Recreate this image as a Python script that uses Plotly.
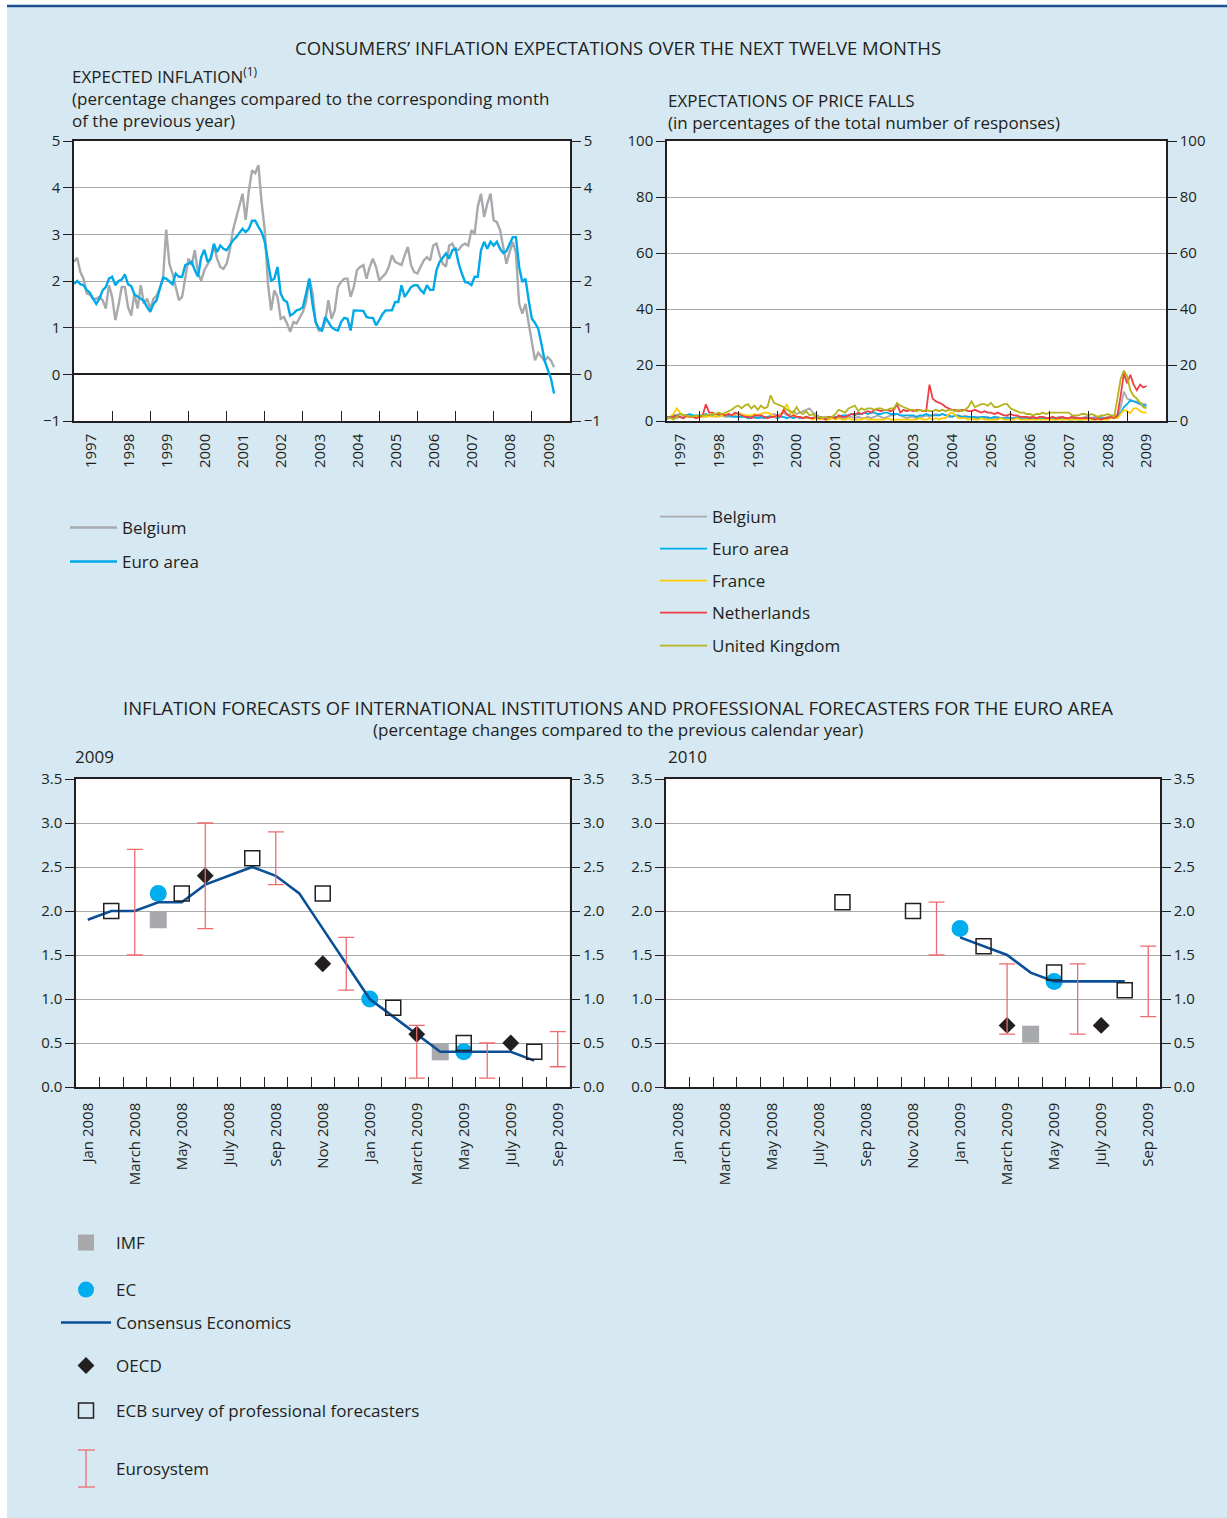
import plotly.graph_objects as go

W, H = 1227, 1518
FONT = "Open Sans"
TXT = "#231f20"
FRAME = "#231f20"
GRID = "#a7a9ac"
BG = "#d6e8f2"

# --- expected inflation, monthly from Jan 1997 (percent)
exp_years = [str(y) for y in range(1997, 2010)]
belgium_exp = [
    2.41, 2.5, 2.19, 2.05, 1.73, 1.71, 1.62, 1.62, 1.66, 1.59, 1.41, 1.91,
    1.66, 1.16, 1.48, 1.87, 1.87, 1.44, 1.26, 1.73, 1.41, 1.91, 1.51, 1.62,
    1.41, 1.62, 1.69, 1.84, 2.05, 3.1, 2.37, 2.16, 1.87, 1.59, 1.66, 2.09,
    2.48, 2.34, 2.66, 2.16, 2.01, 2.23, 2.37, 2.48, 2.76, 2.48, 2.3, 2.26,
    2.37, 2.66, 3.09, 3.37, 3.59, 3.87, 3.31, 3.94, 4.37, 4.31, 4.48, 3.69,
    3.09, 1.94, 1.37, 1.8, 1.66, 1.19, 1.23, 1.09, 0.91, 1.12, 1.09, 1.23,
    1.34, 1.55, 2.05, 1.76, 1.12, 0.94, 0.94, 1.12, 1.59, 1.19, 1.37, 1.87,
    1.98, 2.05, 2.05, 1.66, 1.87, 2.23, 2.3, 2.34, 2.05, 2.3, 2.48, 2.3,
    2.01, 2.09, 2.16, 2.3, 2.55, 2.41, 2.37, 2.34, 2.55, 2.73, 2.34, 2.19,
    2.16, 2.3, 2.44, 2.51, 2.44, 2.76, 2.8, 2.55, 2.37, 2.31, 2.76, 2.8,
    2.66, 2.67, 2.76, 2.8, 2.76, 3.09, 3.01, 3.59, 3.87, 3.37, 3.66, 3.87,
    3.3, 3.26, 3.09, 2.73, 2.37, 2.62, 2.84, 2.59, 1.51, 1.3, 1.51, 1.09,
    0.66, 0.3, 0.46, 0.37, 0.29, 0.37, 0.3, 0.15,
]
euro_exp = [
    1.94, 2.0, 1.93, 1.91, 1.81, 1.75, 1.62, 1.51, 1.62, 1.8, 1.87, 2.05,
    2.09, 1.91, 2.0, 2.03, 2.14, 1.93, 1.89, 1.71, 1.67, 1.62, 1.57, 1.44,
    1.34, 1.51, 1.59, 1.84, 2.07, 2.05, 1.98, 1.93, 2.16, 2.09, 2.09, 2.34,
    2.37, 2.41, 2.23, 2.09, 2.51, 2.67, 2.41, 2.48, 2.8, 2.62, 2.76, 2.69,
    2.66, 2.76, 2.87, 2.94, 3.03, 3.12, 3.05, 3.12, 3.29, 3.29, 3.16, 3.05,
    2.84, 2.37, 2.01, 2.05, 2.3, 1.73, 1.59, 1.55, 1.26, 1.3, 1.37, 1.39,
    1.44, 1.73, 2.05, 1.51, 1.12, 0.98, 0.94, 1.23, 1.12, 1.01, 0.96, 0.94,
    1.12, 1.21, 1.19, 0.94, 1.37, 1.37, 1.37, 1.36, 1.23, 1.21, 1.21, 1.05,
    1.16, 1.29, 1.37, 1.37, 1.37, 1.55, 1.55, 1.91, 1.66, 1.76, 1.87, 1.91,
    1.91, 1.81, 1.74, 1.91, 1.81, 1.81, 2.23, 2.41, 2.51, 2.59, 2.48, 2.66,
    2.69, 2.37, 2.16, 1.98, 1.96, 1.91, 2.09, 2.09, 2.66, 2.84, 2.69, 2.84,
    2.76, 2.84, 2.69, 2.6, 2.64, 2.8, 2.94, 2.94, 2.3, 1.98, 2.05, 1.59,
    1.19, 1.1, 0.98, 0.66, 0.3, 0.1, -0.09, -0.41,
]

# --- expectations of price falls, monthly from Mar 1997 (% of responses)
falls_belgium = [
    1.0, 1.5, 1.0, 1.0, 1.5, 1.0, 1.5, 2.0, 1.5, 1.5,
    1.5, 2.0, 1.5, 2.0, 2.0, 1.5, 2.0, 2.0, 1.5, 1.5, 2.0, 2.0,
    1.5, 1.5, 2.0, 1.5, 1.5, 1.0, 1.5, 1.0, 1.5, 1.5, 2.0, 2.5,
    2.0, 2.5, 3.0, 2.0, 2.5, 3.5, 2.5, 3.0, 3.5, 4.0, 4.5, 3.0,
    2.5, 1.5, 1.5, 1.0, 1.5, 1.0, 1.0, 1.5, 1.0, 1.0, 1.5, 1.5,
    1.0, 1.5, 1.0, 1.0, 1.5, 1.0, 1.5, 2.0, 1.5, 1.0, 1.5, 2.0,
    2.0, 2.5, 2.0, 1.5, 1.0, 1.5, 1.5, 1.0, 1.5, 1.5, 2.0, 1.5,
    2.0, 2.5, 2.0, 2.5, 2.0, 1.5, 1.5, 2.0, 1.5, 1.5, 2.0, 1.5,
    1.5, 1.0, 1.5, 1.0, 1.0, 1.5, 1.0, 1.0, 1.5, 1.0, 1.0, 1.5,
    1.0, 1.0, 1.5, 1.0, 1.0, 1.0, 1.5, 1.0, 1.0, 1.0, 1.5, 1.0,
    1.0, 1.0, 1.0, 1.5, 1.0, 1.0, 1.0, 1.0, 1.5, 1.0, 1.0, 1.5,
    1.5, 1.0, 1.5, 1.0, 1.5, 1.0, 1.5, 2.0, 2.0, 2.0, 5.0, 10.5,
    8.0, 7.5, 7.0, 7.0, 6.5, 6.0, 6.0,
]
falls_euro = [
    1.5, 1.5, 2.0, 2.0, 2.5, 2.0, 2.0, 2.5, 2.0, 2.0,
    2.0, 2.0, 2.5, 2.0, 2.0, 2.5, 2.0, 2.0, 2.0, 2.0, 1.5, 1.5,
    1.5, 1.5, 1.5, 1.0, 1.5, 1.5, 1.0, 1.5, 1.0, 1.5, 1.5, 1.5,
    1.0, 1.5, 1.5, 1.0, 1.5, 1.0, 1.5, 1.0, 1.0, 1.5, 1.0, 1.0,
    1.0, 1.5, 1.0, 1.0, 1.5, 1.0, 1.5, 1.5, 2.0, 2.0, 2.0, 2.5,
    2.5, 2.5, 2.5, 3.0, 2.5, 3.0, 3.0, 2.5, 2.5, 3.0, 3.0, 2.5,
    2.5, 2.5, 2.0, 2.0, 2.0, 2.0, 2.0, 1.5, 2.0, 2.0, 2.5, 2.0,
    2.0, 2.0, 2.0, 2.5, 2.0, 2.0, 1.5, 2.0, 2.0, 1.5, 1.5, 1.5,
    1.5, 1.5, 1.0, 1.5, 1.5, 1.0, 1.0, 1.5, 1.0, 1.0, 1.0, 1.0,
    1.0, 1.0, 1.0, 1.0, 1.0, 1.0, 1.0, 1.0, 1.0, 1.0, 1.0, 1.0,
    1.0, 1.0, 0.5, 1.0, 0.5, 1.0, 0.5, 0.5, 1.0, 0.5, 0.5, 1.0,
    1.0, 0.5, 1.0, 0.5, 1.0, 1.0, 1.0, 1.0, 1.0, 1.5, 3.0, 5.0,
    6.0, 7.5, 7.0, 6.5, 6.0, 5.5, 5.5,
]
falls_france = [
    0.5, 1.5, 2.5, 4.5, 3.0, 2.0, 1.5, 1.5, 1.5, 1.5,
    1.5, 1.5, 1.5, 2.0, 1.5, 2.0, 1.5, 2.0, 2.0, 2.5, 2.0, 2.5,
    3.0, 2.5, 2.0, 2.0, 2.0, 2.5, 2.0, 2.5, 3.0, 3.0, 2.5, 1.5,
    1.5, 2.0, 4.0, 6.0, 3.0, 2.5, 1.5, 1.5, 1.0, 1.0, 1.0, 0.5,
    1.0, 0.5, 1.0, 0.5, 0.5, 1.0, 0.5, 1.0, 0.5, 0.5, 1.0, 0.5,
    0.5, 0.5, 0.5, 1.0, 0.5, 0.5, 0.5, 0.5, 0.5, 0.5, 1.0, 0.5,
    0.5, 0.5, 0.5, 0.5, 0.5, 0.5, 0.5, 0.5, 1.0, 0.5, 0.5, 1.0,
    0.5, 1.0, 0.5, 1.0, 1.0, 2.5, 3.0, 2.0, 1.0, 1.0, 1.0, 0.5,
    1.0, 0.5, 0.5, 1.0, 0.5, 0.5, 0.5, 0.5, 0.5, 1.0, 0.5, 0.5,
    0.5, 0.5, 1.0, 0.5, 0.5, 0.5, 0.5, 0.5, 0.5, 0.5, 0.5, 0.5,
    0.5, 0.5, 0.5, 0.5, 0.5, 0.5, 0.5, 0.5, 0.5, 0.5, 0.5, 0.5,
    0.5, 0.5, 0.5, 0.5, 0.5, 0.5, 0.5, 1.0, 1.0, 1.0, 2.5, 4.0,
    3.5, 2.8, 4.5, 4.5, 3.5, 3.0, 3.0,
]
falls_netherlands = [
    1.0, 1.5, 1.5, 2.0, 1.5, 1.0, 2.0, 1.5, 1.5, 1.0,
    1.5, 2.0, 6.0, 3.0, 3.0, 2.5, 2.5, 2.5, 2.0, 2.5, 2.0, 3.0,
    2.5, 2.0, 1.5, 1.5, 1.0, 2.0, 2.0, 2.0, 1.5, 1.0, 1.5, 1.5,
    2.0, 1.5, 4.0, 2.5, 1.5, 2.0, 1.5, 1.5, 1.0, 1.5, 1.0, 1.0,
    1.5, 1.0, 1.0, 0.5, 1.5, 1.5, 1.0, 2.0, 1.5, 1.5, 2.0, 2.5,
    2.0, 3.0, 2.5, 3.0, 3.5, 3.0, 4.0, 4.0, 3.5, 4.0, 4.0, 3.5,
    4.0, 6.0, 3.0, 4.0, 3.5, 4.0, 3.5, 4.0, 4.0, 3.5, 3.5, 13.0,
    8.0, 7.0, 6.5, 6.0, 5.0, 4.5, 4.0, 4.0, 3.5, 4.0, 4.0, 3.5,
    3.5, 4.0, 3.5, 3.0, 3.5, 3.0, 3.0, 2.5, 3.0, 2.5, 2.0, 2.0,
    2.5, 2.0, 2.0, 1.5, 1.5, 1.5, 1.0, 1.5, 1.0, 1.5, 1.5, 1.0,
    1.0, 1.5, 1.0, 1.0, 1.5, 1.0, 1.0, 1.5, 1.0, 1.0, 1.0, 1.0,
    1.0, 1.0, 0.5, 1.0, 0.5, 1.0, 1.0, 1.5, 1.0, 2.0, 9.0, 17.0,
    13.5, 16.5, 13.0, 11.0, 13.0, 12.0, 12.5,
]
falls_uk = [
    1.0, 1.2, 0.5, 1.5, 2.5, 2.2, 2.0, 1.8, 1.5, 2.0,
    1.8, 2.0, 2.2, 2.0, 2.5, 2.5, 3.0, 2.5, 3.0, 3.5, 4.0, 5.0,
    5.5, 4.5, 5.5, 6.0, 4.5, 5.5, 4.0, 5.5, 4.5, 5.0, 9.2, 6.5,
    6.0, 5.5, 5.0, 4.0, 3.5, 3.0, 5.0, 3.0, 2.5, 3.5, 2.0, 2.5,
    1.5, 1.5, 1.0, 1.5, 1.0, 1.5, 2.5, 4.0, 3.5, 3.0, 4.5, 5.0,
    5.5, 3.5, 4.5, 4.0, 4.5, 4.5, 4.0, 4.5, 4.5, 4.0, 4.0, 4.5,
    4.5, 6.5, 5.5, 5.0, 4.5, 4.0, 4.0, 3.5, 4.0, 3.5, 4.0, 3.5,
    3.5, 4.0, 3.5, 4.0, 3.5, 4.0, 4.0, 3.5, 4.0, 3.5, 4.0, 5.0,
    7.0, 5.0, 5.5, 6.0, 6.0, 5.5, 6.5, 5.0, 5.0, 5.5, 6.0, 6.0,
    4.5, 4.0, 3.5, 3.0, 3.0, 2.5, 2.5, 2.0, 2.5, 2.5, 3.0, 2.5,
    3.0, 3.0, 3.0, 3.0, 3.0, 3.0, 3.0, 2.0, 2.0, 2.0, 2.5, 2.5,
    2.0, 2.5, 2.0, 1.5, 2.0, 2.0, 2.5, 2.0, 1.5, 8.0, 15.0, 18.0,
    16.0, 11.0, 9.0, 8.0, 6.5, 5.0, 4.5,
]
falls_names = ["Belgium", "Euro area", "France", "Netherlands", "United Kingdom"]
falls_colors = ["#a7a9ac", "#00aeef", "#ffcc00", "#ef3e45", "#b5b41e"]

# --- forecasts (month index 0 = Jan 2008)
fc_labels = ["Jan 2008", "March 2008", "May 2008", "July 2008", "Sep 2008", "Nov 2008",
             "Jan 2009", "March 2009", "May 2009", "July 2009", "Sep 2009"]

consensus_2009_m = list(range(0, 20))
consensus_2009 = [1.9, 2.0, 2.0, 2.1, 2.1, 2.3, 2.4, 2.5, 2.4, 2.2,
                  1.8, 1.4, 1.0, 0.8, 0.6, 0.4, 0.4, 0.4, 0.4, 0.3]
imf_2009_m, imf_2009 = [3, 15], [1.9, 0.4]
ec_2009_m, ec_2009 = [3, 12, 16], [2.2, 1.0, 0.4]
oecd_2009_m, oecd_2009 = [5, 10, 14, 18], [2.4, 1.4, 0.6, 0.5]
spf_2009_m, spf_2009 = [1, 4, 7, 10, 13, 16, 19], [2.0, 2.2, 2.6, 2.2, 0.9, 0.5, 0.4]
eurosys_2009_m = [2, 5, 8, 11, 14, 17, 20]
eurosys_2009_lo = [1.5, 1.8, 2.3, 1.1, 0.1, 0.1, 0.23]
eurosys_2009_hi = [2.7, 3.0, 2.9, 1.7, 0.7, 0.5, 0.63]

consensus_2010_m = list(range(12, 20))
consensus_2010 = [1.7, 1.6, 1.5, 1.3, 1.2, 1.2, 1.2, 1.2]
imf_2010_m, imf_2010 = [15], [0.6]
ec_2010_m, ec_2010 = [12, 16], [1.8, 1.2]
oecd_2010_m, oecd_2010 = [14, 18], [0.7, 0.7]
spf_2010_m, spf_2010 = [7, 10, 13, 16, 19], [2.1, 2.0, 1.6, 1.3, 1.1]
eurosys_2010_m = [11, 14, 17, 20]
eurosys_2010_lo = [1.5, 0.6, 0.6, 0.8]
eurosys_2010_hi = [2.1, 1.4, 1.4, 1.6]


def dx(a, b):
    return [a / W, b / W]


def dy(top, bottom):
    return [1 - bottom / H, 1 - top / H]


def xaxis_style(domain, rng, tickvals, ticktext, minor_vals, anchor, standoff):
    return dict(domain=domain, range=rng, anchor=anchor, tickmode="array",
                tickvals=tickvals, ticktext=ticktext, tickangle=-90, ticks="",
                ticklabelstandoff=standoff,
                tickfont=dict(family=FONT, size=15, color=TXT), automargin=False,
                showline=True, linecolor=FRAME, linewidth=1.5, mirror=True,
                showgrid=False, zeroline=False,
                minor=dict(tickmode="array", tickvals=minor_vals, ticks="inside",
                           ticklen=10, tickwidth=1.3, tickcolor=FRAME, showgrid=False))


def yaxis_style(domain, rng, tickvals, anchor, fmt=None, zero=False):
    d = dict(domain=domain, range=rng, anchor=anchor, tickmode="array", tickvals=tickvals,
             ticks="outside", ticklen=9, tickwidth=1.3, tickcolor=FRAME, automargin=False,
             tickfont=dict(family=FONT, size=15, color=TXT),
             showline=True, linecolor=FRAME, linewidth=1.5,
             showgrid=True, gridcolor=GRID, gridwidth=1.3,
             zeroline=zero, zerolinecolor=FRAME, zerolinewidth=1.6)
    if fmt:
        d["tickformat"] = fmt
    return d


def yaxis_right(over, rng, tickvals, anchor, fmt=None):
    d = dict(overlaying=over, side="right", range=rng, anchor=anchor, tickmode="array",
             tickvals=tickvals, ticks="outside", ticklen=9, tickwidth=1.3, tickcolor=FRAME,
             tickfont=dict(family=FONT, size=15, color=TXT), automargin=False,
             showline=True, linecolor=FRAME, linewidth=1.5, showgrid=False, zeroline=False)
    if fmt:
        d["tickformat"] = fmt
    return d


def legend_at(text_x, y, itemwidth):
    gap = itemwidth + 10
    return dict(x=(text_x - gap) / W, y=1 - y / H, xanchor="left", yanchor="middle",
                bgcolor="rgba(0,0,0,0)", borderwidth=0, itemwidth=itemwidth,
                font=dict(family=FONT, size=17, color=TXT))


fig = go.Figure()

# top left: expected inflation (euro area drawn on the right-hand axis, same scale)
exp_x = [1997 + i / 12 for i in range(len(belgium_exp))]
fig.add_trace(go.Scatter(x=exp_x, y=belgium_exp, mode="lines", name="Belgium",
                         line=dict(color="#a7a9ac", width=2.4), xaxis="x", yaxis="y",
                         legend="legend"))
fig.add_trace(go.Scatter(x=exp_x, y=euro_exp, mode="lines", name="Euro area",
                         line=dict(color="#00a9e8", width=2.4), xaxis="x", yaxis="y2",
                         legend="legend2"))

# top right: price falls
falls_x = [1997 + (2 + i) / 12 for i in range(len(falls_belgium))]
falls_series = [falls_belgium, falls_euro, falls_france, falls_netherlands, falls_uk]
for k, (name, vals, col) in enumerate(zip(falls_names, falls_series, falls_colors)):
    fig.add_trace(go.Scatter(x=falls_x, y=vals, mode="lines", name=name,
                             line=dict(color=col, width=1.8), xaxis="x2",
                             yaxis="y4" if k == len(falls_names) - 1 else "y3",
                             legend="legend%d" % (3 + k)))


# bottom: forecasts
def add_forecasts(xa, ya, ya_right, cons_m, cons, imf_m, imf, ec_m, ec, oecd_m, oecd,
                  spf_m, spf, es_m, es_lo, es_hi, show):
    fig.add_trace(go.Scatter(x=imf_m, y=imf, mode="markers", name="IMF",
                             marker=dict(symbol="square", size=17, color="#a7a9ac"),
                             xaxis=xa, yaxis=ya, showlegend=show, legend="legend8"))
    fig.add_trace(go.Scatter(x=ec_m, y=ec, mode="markers", name="EC",
                             marker=dict(symbol="circle", size=17, color="#00aeef"),
                             xaxis=xa, yaxis=ya, showlegend=show, legend="legend9"))
    fig.add_trace(go.Scatter(x=cons_m, y=cons, mode="lines", name="Consensus Economics",
                             line=dict(color="#0b4f96", width=2.6),
                             xaxis=xa, yaxis=ya, showlegend=show, legend="legend10"))
    fig.add_trace(go.Scatter(x=oecd_m, y=oecd, mode="markers", name="OECD",
                             marker=dict(symbol="diamond", size=13, color="#231f20"),
                             xaxis=xa, yaxis=ya, showlegend=show, legend="legend11"))
    fig.add_trace(go.Scatter(x=spf_m, y=spf, mode="markers",
                             name="ECB survey of professional forecasters",
                             marker=dict(symbol="square-open", size=15, color="#231f20",
                                         line=dict(width=1.5, color="#231f20")),
                             xaxis=xa, yaxis=ya, showlegend=show, legend="legend12"))
    mids = [(lo + hi) / 2 for lo, hi in zip(es_lo, es_hi)]
    half = [(hi - lo) / 2 for lo, hi in zip(es_lo, es_hi)]
    fig.add_trace(go.Scatter(x=es_m, y=mids, mode="markers", name="Eurosystem",
                             marker=dict(size=6, color="rgba(0,0,0,0)"),
                             error_y=dict(type="data", array=half, symmetric=True,
                                          color="#ef6b70", thickness=1.3, width=8),
                             xaxis=xa, yaxis=ya_right, showlegend=show, legend="legend13"))


add_forecasts("x3", "y5", "y6", consensus_2009_m, consensus_2009, imf_2009_m, imf_2009,
              ec_2009_m, ec_2009, oecd_2009_m, oecd_2009, spf_2009_m, spf_2009,
              eurosys_2009_m, eurosys_2009_lo, eurosys_2009_hi, True)
add_forecasts("x4", "y7", "y8", consensus_2010_m, consensus_2010, imf_2010_m, imf_2010,
              ec_2010_m, ec_2010, oecd_2010_m, oecd_2010, spf_2010_m, spf_2010,
              eurosys_2010_m, eurosys_2010_lo, eurosys_2010_hi, False)

years = list(range(1997, 2010))
fc_pos = list(range(0, 21, 2))
fc_minor = [m + 0.5 for m in range(20)]
fc_y = [i / 2 for i in range(8)]

layout = dict(
    width=W, height=H, autosize=False, showlegend=True,
    margin=dict(l=0, r=0, t=0, b=0),
    paper_bgcolor=BG, plot_bgcolor="white",
    font=dict(family=FONT, color=TXT),
    xaxis=xaxis_style(dx(74, 570), [1997, 2010], [y + 0.44 for y in years], exp_years,
                      list(range(1998, 2010)), "y", 5),
    yaxis=yaxis_style(dy(141, 421), [-1, 5], list(range(-1, 6)), "x", zero=True),
    yaxis2=yaxis_right("y", [-1, 5], list(range(-1, 6)), "x"),
    xaxis2=xaxis_style(dx(667, 1166), [1997 + 2 / 12, 2010], [y + 0.5 for y in years],
                       exp_years, list(range(1998, 2010)), "y3", 5),
    yaxis3=yaxis_style(dy(141, 421), [0, 100], list(range(0, 101, 20)), "x2"),
    yaxis4=yaxis_right("y3", [0, 100], list(range(0, 101, 20)), "x2"),
    xaxis3=xaxis_style(dx(76, 569.5), [-0.5, 20.5], fc_pos, fc_labels, fc_minor, "y5", 8),
    yaxis5=yaxis_style(dy(779, 1087), [0, 3.5], fc_y, "x3", fmt=".1f"),
    yaxis6=yaxis_right("y5", [0, 3.5], fc_y, "x3", fmt=".1f"),
    xaxis4=xaxis_style(dx(666, 1160), [-0.5, 20.5], fc_pos, fc_labels, fc_minor, "y7", 8),
    yaxis7=yaxis_style(dy(779, 1087), [0, 3.5], fc_y, "x4", fmt=".1f"),
    yaxis8=yaxis_right("y7", [0, 3.5], fc_y, "x4", fmt=".1f"),
)

# legends, one per entry so each sits where the original puts it
legend_pos = {
    "legend": (122, 528, 47), "legend2": (122, 562, 47),
    "legend3": (712, 517, 47), "legend4": (712, 549, 47), "legend5": (712, 581, 47),
    "legend6": (712, 613, 47), "legend7": (712, 646, 47),
    "legend8": (116, 1243, 50), "legend9": (116, 1290, 50), "legend10": (116, 1323, 50),
    "legend11": (116, 1366, 50), "legend12": (116, 1411, 50), "legend13": (116, 1469, 50),
}
for key, (lx, ly, iw) in legend_pos.items():
    layout[key] = legend_at(lx, ly, iw)

fig.update_layout(**layout)


def ann(text, x, y, size=17, xanchor="left", yanchor="middle", align="left"):
    fig.add_annotation(text=text, x=x / W, y=1 - y / H, xref="paper", yref="paper",
                       xanchor=xanchor, yanchor=yanchor, align=align, showarrow=False,
                       font=dict(family=FONT, size=size, color=TXT))


ann("CONSUMERS’ INFLATION EXPECTATIONS OVER THE NEXT TWELVE MONTHS", 618, 47, size=18.5,
    xanchor="center", align="center")
ann("EXPECTED INFLATION<sup>(1)</sup><br>(percentage changes compared to the corresponding month"
    "<br>of the previous year)", 70, 61, yanchor="top")
ann("EXPECTATIONS OF PRICE FALLS<br>(in percentages of the total number of responses)",
    666, 87, yanchor="top")
ann("INFLATION FORECASTS OF INTERNATIONAL INSTITUTIONS AND PROFESSIONAL FORECASTERS FOR THE EURO AREA",
    618, 707, size=18.5, xanchor="center", align="center")
ann("(percentage changes compared to the previous calendar year)", 618, 729,
    xanchor="center", align="center")
ann("2009", 73, 756)
ann("2010", 666, 756)

# page frame: white margin strips and the dark blue rule at the top
fig.add_shape(type="rect", xref="paper", yref="paper", x0=0, x1=7 / W, y0=0, y1=1,
              fillcolor="white", line=dict(width=0))
fig.add_shape(type="rect", xref="paper", yref="paper", x0=0, x1=1, y0=1 - 5 / H, y1=1,
              fillcolor="white", line=dict(width=0))
fig.add_shape(type="line", xref="paper", yref="paper", x0=7 / W, x1=1, y0=1 - 6 / H,
              y1=1 - 6 / H, line=dict(color="#1d4f91", width=2.5))

# I-beam symbol for the Eurosystem legend entry
es_col = "#ef6b70"
fig.add_shape(type="line", xref="paper", yref="paper", x0=86 / W, x1=86 / W,
              y0=1 - 1450 / H, y1=1 - 1487 / H, line=dict(color=es_col, width=1.3))
for cy in (1450, 1487):
    fig.add_shape(type="line", xref="paper", yref="paper", x0=78 / W, x1=95 / W,
                  y0=1 - cy / H, y1=1 - cy / H, line=dict(color=es_col, width=1.3))

fig.write_html("out.html", config={"displayModeBar": False},
               post_script="document.body.style.margin='0';"
                           "document.body.style.overflow='hidden';")
